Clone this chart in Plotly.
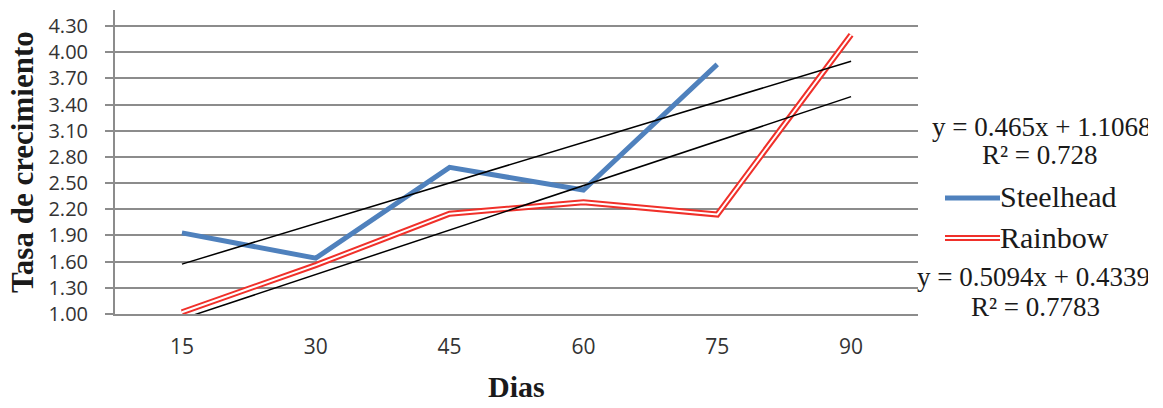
import plotly.graph_objects as go

# ---- data ----
dias = ["15", "30", "45", "60", "75", "90"]
steelhead = [1.93, 1.64, 2.68, 2.42, 3.86]
rainbow = [1.02, 1.56, 2.15, 2.28, 2.14, 4.20]
trend_steel = (0.465, 1.1068)     # slope, intercept (x = 1..n)
trend_rain = (0.5094, 0.4339)
y_ticks = [1.00, 1.30, 1.60, 1.90, 2.20, 2.50, 2.80, 3.10, 3.40, 3.70, 4.00, 4.30]
eq_steel = ["y = 0.465x + 1.1068", "R² = 0.728"]
eq_rain = ["y = 0.5094x + 0.4339", "R² = 0.7783"]

W, H = 1148, 408
L, R, T, B = 115, 918, 10, 314

def px(x):
    return (x - L) / (R - L)

def py(y):
    return (B - y) / (B - T)

BLUE = "#4F81BD"
RED = "#F0302A"
GRID = "#8C8C8C"
SERIF = "Liberation Serif, Times New Roman, serif"
SANS = "Open Sans, sans-serif"

fig = go.Figure()

# Rainbow (double line: red outer + white inner)
fig.add_trace(go.Scatter(x=dias, y=rainbow, mode="lines",
                         line=dict(color=RED, width=6), showlegend=False))
fig.add_trace(go.Scatter(x=dias, y=rainbow, mode="lines",
                         line=dict(color="white", width=2), showlegend=False))
# Steelhead
fig.add_trace(go.Scatter(x=dias[:len(steelhead)], y=steelhead, mode="lines",
                         line=dict(color=BLUE, width=5), showlegend=False))

# Trendlines
n = len(dias)
for slope, icpt in (trend_steel, trend_rain):
    xs = [dias[0], dias[-1]]
    ys = [slope * 1 + icpt, slope * n + icpt]
    fig.add_trace(go.Scatter(x=xs, y=ys, mode="lines",
                             line=dict(color="black", width=1.5), showlegend=False))

# invisible trace to activate the label-only y axis
fig.add_trace(go.Scatter(x=[dias[0]], y=[y_ticks[0]], yaxis="y2", mode="lines",
                         line=dict(width=0), showlegend=False, hoverinfo="skip"))

ann = []
def txt(t, x, y, xanchor="left", size=27):
    ann.append(dict(text=t, x=px(x), y=py(y), xref="paper", yref="paper",
                    xanchor=xanchor, yanchor="middle", showarrow=False, borderpad=0,
                    font=dict(family=SERIF, size=size, color="#1a1a1a")))

txt(eq_steel[0], 931, 127)
txt(eq_steel[1], 1040, 155, xanchor="center")
txt("Steelhead", 999, 197, size=30)
txt("Rainbow", 999, 237, size=30)
txt(eq_rain[0], 916, 277)
txt(eq_rain[1], 1035, 307, xanchor="center")

# axis titles
ann.append(dict(text="<b>Tasa de crecimiento</b>", x=px(22), y=py(162), xref="paper", yref="paper",
                xanchor="center", yanchor="middle", textangle=-90, showarrow=False,
                font=dict(family=SERIF, size=31, color="#1a1a1a")))
ann.append(dict(text="<b>Dias</b>", x=px(516), y=py(386), xref="paper", yref="paper",
                xanchor="center", yanchor="middle", showarrow=False,
                font=dict(family=SERIF, size=30, color="#1a1a1a")))

shapes = [
    dict(type="line", xref="paper", yref="paper", x0=px(945), x1=px(1000), y0=py(198), y1=py(198),
         line=dict(color=BLUE, width=5)),
    dict(type="line", xref="paper", yref="paper", x0=px(945), x1=px(1000), y0=py(238), y1=py(238),
         line=dict(color=RED, width=6)),
    dict(type="line", xref="paper", yref="paper", x0=px(945), x1=px(1000), y0=py(238), y1=py(238),
         line=dict(color="white", width=2)),
]

ymax = 1.00 + (B - T) / ((B - 26) / 3.30)
ytext = [f"{v:.2f}" for v in y_ticks]

fig.update_layout(
    width=W, height=H,
    margin=dict(l=L, r=W - R, t=T, b=H - B, pad=0),
    paper_bgcolor="white", plot_bgcolor="white",
    showlegend=False,
    annotations=ann, shapes=shapes,
    xaxis=dict(type="category", range=[-0.5, 5.5], showgrid=False, zeroline=False,
               showline=True, linecolor=GRID, linewidth=1.5, ticks="",
               tickfont=dict(family=SANS, size=21, color="#333"),
               ticklabelstandoff=13),
    yaxis=dict(range=[1.0, ymax], tickvals=y_ticks, showticklabels=False,
               showgrid=True, gridcolor=GRID, gridwidth=1.5, zeroline=False,
               showline=True, linecolor=GRID, linewidth=1.5,
               ticks="outside", ticklen=8, tickcolor=GRID, tickwidth=1.5),
    yaxis2=dict(range=[1.0, ymax], tickvals=y_ticks, ticktext=ytext,
                overlaying="y", side="left", anchor="x",
                showgrid=False, zeroline=False, showline=False,
                ticks="outside", ticklen=22, tickcolor="rgba(0,0,0,0)",
                tickfont=dict(family=SANS, size=20, color="#333")),
)

fig.write_html("out.html", config={"displayModeBar": False},
               post_script="document.body.style.margin='0';document.body.style.overflow='hidden';")
